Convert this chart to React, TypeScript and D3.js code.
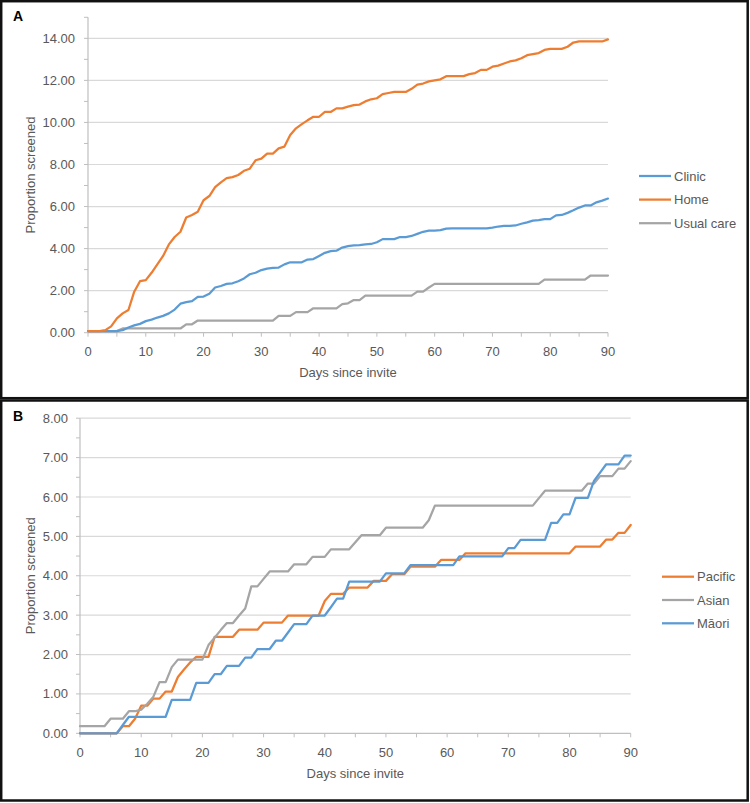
import React from "react";
import * as d3 from "d3";

// ---------- DATA ----------
const days: number[] = Array.from({ length: 91 }, (_, i) => i);
const xTicks = [0, 10, 20, 30, 40, 50, 60, 70, 80, 90];

// Panel A
const seriesA = ["Clinic", "Home", "Usual care"];
const clinic = [
  0.08, 0.08, 0.08, 0.08, 0.08, 0.08, 0.12, 0.25, 0.35, 0.42,
  0.55, 0.62, 0.72, 0.80, 0.92, 1.10, 1.38, 1.45, 1.50, 1.70,
  1.72, 1.85, 2.15, 2.22, 2.32, 2.35, 2.45, 2.58, 2.78, 2.85,
  2.98, 3.05, 3.08, 3.10, 3.25, 3.35, 3.35, 3.35, 3.48, 3.50,
  3.65, 3.80, 3.88, 3.90, 4.05, 4.12, 4.15, 4.16, 4.20, 4.22,
  4.30, 4.45, 4.45, 4.45, 4.55, 4.55, 4.60, 4.70, 4.80, 4.85,
  4.85, 4.88, 4.95, 4.96, 4.96, 4.96, 4.96, 4.96, 4.96, 4.96,
  5.00, 5.05, 5.08, 5.08, 5.10, 5.18, 5.25, 5.33, 5.35, 5.40,
  5.40, 5.58, 5.60, 5.70, 5.82, 5.95, 6.05, 6.05, 6.20, 6.28,
  6.38,
];
const home = [
  0.07, 0.07, 0.07, 0.12, 0.30, 0.68, 0.92, 1.08, 1.95, 2.45,
  2.50, 2.85, 3.25, 3.65, 4.20, 4.55, 4.80, 5.48, 5.60, 5.75,
  6.30, 6.50, 6.92, 7.15, 7.35, 7.40, 7.50, 7.70, 7.80, 8.20,
  8.28, 8.52, 8.52, 8.77, 8.85, 9.40, 9.72, 9.92, 10.10, 10.27,
  10.27, 10.50, 10.50, 10.67, 10.67, 10.75, 10.82, 10.85, 11.00, 11.10,
  11.15, 11.35, 11.40, 11.45, 11.45, 11.45, 11.60, 11.80, 11.85, 11.95,
  12.00, 12.05, 12.20, 12.20, 12.20, 12.20, 12.30, 12.35, 12.50, 12.50,
  12.65, 12.70, 12.80, 12.90, 12.95, 13.05, 13.20, 13.25, 13.30, 13.45,
  13.50, 13.50, 13.50, 13.60, 13.80, 13.85, 13.85, 13.85, 13.85, 13.85,
  13.95,
];
const usualCare = [
  0.08, 0.08, 0.08, 0.08, 0.08, 0.08, 0.20, 0.20, 0.20, 0.20,
  0.20, 0.20, 0.20, 0.20, 0.20, 0.20, 0.20, 0.40, 0.40, 0.58,
  0.58, 0.58, 0.58, 0.58, 0.58, 0.58, 0.58, 0.58, 0.58, 0.58,
  0.58, 0.58, 0.58, 0.80, 0.80, 0.80, 0.98, 0.98, 0.98, 1.16,
  1.16, 1.16, 1.16, 1.16, 1.36, 1.40, 1.55, 1.55, 1.76, 1.76,
  1.76, 1.76, 1.76, 1.76, 1.76, 1.76, 1.76, 1.95, 1.95, 2.15,
  2.32, 2.32, 2.32, 2.32, 2.32, 2.32, 2.32, 2.32, 2.32, 2.32,
  2.32, 2.32, 2.32, 2.32, 2.32, 2.32, 2.32, 2.32, 2.32, 2.52,
  2.52, 2.52, 2.52, 2.52, 2.52, 2.52, 2.52, 2.72, 2.72, 2.72,
  2.72,
];
const yTicksA = [0, 2, 4, 6, 8, 10, 12, 14];

// Panel B
const seriesB = ["Pacific", "Asian", "Māori"];
const pacific = [
  0, 0, 0, 0, 0, 0, 0, 0.18, 0.18, 0.37,
  0.70, 0.70, 0.88, 0.88, 1.06, 1.06, 1.43, 1.62, 1.80, 1.94,
  1.94, 1.94, 2.45, 2.45, 2.45, 2.45, 2.63, 2.63, 2.63, 2.63,
  2.81, 2.81, 2.81, 2.81, 2.99, 2.99, 2.99, 2.99, 2.99, 2.99,
  3.36, 3.54, 3.54, 3.54, 3.70, 3.70, 3.70, 3.70, 3.87, 3.87,
  3.87, 4.04, 4.04, 4.04, 4.23, 4.23, 4.23, 4.23, 4.23, 4.40,
  4.40, 4.40, 4.40, 4.57, 4.57, 4.57, 4.57, 4.57, 4.57, 4.57,
  4.57, 4.57, 4.57, 4.57, 4.57, 4.57, 4.57, 4.57, 4.57, 4.57,
  4.57, 4.74, 4.74, 4.74, 4.74, 4.74, 4.92, 4.92, 5.09, 5.09,
  5.29,
];
const asian = [
  0.18, 0.18, 0.18, 0.18, 0.18, 0.37, 0.37, 0.37, 0.56, 0.56,
  0.60, 0.75, 0.93, 1.30, 1.30, 1.68, 1.87, 1.87, 1.87, 1.87,
  1.87, 2.24, 2.43, 2.62, 2.80, 2.80, 2.99, 3.17, 3.73, 3.73,
  3.92, 4.11, 4.11, 4.11, 4.11, 4.29, 4.29, 4.29, 4.48, 4.48,
  4.48, 4.67, 4.67, 4.67, 4.67, 4.85, 5.03, 5.03, 5.03, 5.03,
  5.22, 5.22, 5.22, 5.22, 5.22, 5.22, 5.22, 5.41, 5.78, 5.78,
  5.78, 5.78, 5.78, 5.78, 5.78, 5.78, 5.78, 5.78, 5.78, 5.78,
  5.78, 5.78, 5.78, 5.78, 5.78, 5.97, 6.16, 6.16, 6.16, 6.16,
  6.16, 6.16, 6.16, 6.34, 6.34, 6.53, 6.53, 6.53, 6.72, 6.72,
  6.91,
];
const maori = [
  0, 0, 0, 0, 0, 0, 0, 0.21, 0.42, 0.42,
  0.42, 0.42, 0.42, 0.42, 0.42, 0.85, 0.85, 0.85, 0.85, 1.28,
  1.28, 1.28, 1.50, 1.50, 1.71, 1.71, 1.71, 1.92, 1.92, 2.14,
  2.14, 2.14, 2.35, 2.35, 2.56, 2.77, 2.77, 2.77, 2.99, 2.99,
  2.99, 3.20, 3.42, 3.42, 3.85, 3.85, 3.85, 3.85, 3.85, 3.85,
  4.06, 4.06, 4.06, 4.06, 4.27, 4.27, 4.27, 4.27, 4.27, 4.27,
  4.27, 4.27, 4.49, 4.49, 4.49, 4.49, 4.49, 4.49, 4.49, 4.49,
  4.70, 4.70, 4.91, 4.91, 4.91, 4.91, 4.91, 5.34, 5.34, 5.56,
  5.56, 5.98, 5.98, 5.98, 6.41, 6.62, 6.83, 6.83, 6.83, 7.05,
  7.05,
];
const yTicksB = [0, 1, 2, 3, 4, 5, 6, 7, 8];

const BLUE = "#5B9BD5";
const ORANGE = "#ED7D31";
const GRAY = "#A5A5A5";
const FONT = "'Liberation Sans', Arial, sans-serif";
const TEXT = "#595959";

type Series = { name: string; values: number[]; color: string };

type PanelProps = {
  label: string;
  labelX: number;
  labelY: number;
  xr: [number, number];
  yr: [number, number];
  yMax: number;
  yTicks: number[];
  minorStep: number;
  series: Series[];
  drawOrder: number[];
  legendX: number;
  legendY: number;
  legendGap: number;
  tickLabelGap: number;
};

function Panel(p: PanelProps) {
  const x = d3.scaleLinear().domain([0, 90]).range(p.xr);
  const y = d3.scaleLinear().domain([0, p.yMax]).range(p.yr);
  const fmt = d3.format(".2f");
  const line = d3
    .line<number>()
    .x((_, i) => x(days[i]))
    .y((v) => y(v));
  const minorY = d3.range(0, p.yMax + 1e-9, p.minorStep);
  const minorX = d3.range(0, 91, 5);
  const y0 = y(0);
  const midY = (p.yr[0] + p.yr[1]) / 2;
  const midX = (p.xr[0] + p.xr[1]) / 2;
  return (
    <g fontFamily={FONT}>
      <text x={p.labelX} y={p.labelY} fontSize={14} fontWeight="bold" fill="#000">
        {p.label}
      </text>
      {p.yTicks.filter((t) => t > 0).map((t) => (
        <line key={"g" + t} x1={p.xr[0]} x2={p.xr[1]} y1={y(t)} y2={y(t)} stroke="#D9D9D9" strokeWidth={1.2} />
      ))}
      <line x1={p.xr[0]} x2={p.xr[0]} y1={y(p.yMax)} y2={y0} stroke="#BFBFBF" strokeWidth={1.2} />
      <line x1={p.xr[0]} x2={p.xr[1]} y1={y0} y2={y0} stroke="#BFBFBF" strokeWidth={1.2} />
      {minorY.map((t) => (
        <line key={"my" + t} x1={p.xr[0] - 4} x2={p.xr[0]} y1={y(t)} y2={y(t)} stroke="#BFBFBF" strokeWidth={1} />
      ))}
      {minorX.map((t) => (
        <line key={"mx" + t} x1={x(t)} x2={x(t)} y1={y0} y2={y0 + 4} stroke="#BFBFBF" strokeWidth={1} />
      ))}
      {p.yTicks.map((t) => (
        <text key={"yt" + t} x={p.xr[0] - p.tickLabelGap} y={y(t)} dy="0.35em" textAnchor="end" fontSize={13} fill={TEXT}>
          {fmt(t)}
        </text>
      ))}
      {xTicks.map((t) => (
        <text key={"xt" + t} x={x(t)} y={y0 + 23.5} textAnchor="middle" fontSize={13} fill={TEXT}>
          {t}
        </text>
      ))}
      <text x={midX} y={y0 + 44.5} textAnchor="middle" fontSize={13} fill={TEXT}>
        Days since invite
      </text>
      <text
        transform={`translate(34.5,${midY}) rotate(-90)`}
        textAnchor="middle"
        fontSize={13}
        fill={TEXT}
      >
        Proportion screened
      </text>
      {p.drawOrder.map((i) => {
        const s = p.series[i];
        return (
          <path
            key={s.name}
            d={line(s.values) || ""}
            fill="none"
            stroke={s.color}
            strokeWidth={2.25}
            strokeLinejoin="round"
            strokeLinecap="round"
          />
        );
      })}
      {p.series.map((s, i) => (
        <g key={"lg" + s.name}>
          <line
            x1={p.legendX}
            x2={p.legendX + 32}
            y1={p.legendY + i * p.legendGap}
            y2={p.legendY + i * p.legendGap}
            stroke={s.color}
            strokeWidth={2.25}
          />
          <text x={p.legendX + 35} y={p.legendY + i * p.legendGap} dy="0.35em" fontSize={13} fill={TEXT}>
            {s.name}
          </text>
        </g>
      ))}
    </g>
  );
}

export default function App() {
  const A: Series[] = [
    { name: seriesA[0], values: clinic, color: BLUE },
    { name: seriesA[1], values: home, color: ORANGE },
    { name: seriesA[2], values: usualCare, color: GRAY },
  ];
  const B: Series[] = [
    { name: seriesB[0], values: pacific, color: ORANGE },
    { name: seriesB[1], values: asian, color: GRAY },
    { name: seriesB[2], values: maori, color: BLUE },
  ];
  return (
    <svg
      width={750}
      height={803}
      style={{ position: "absolute", left: 0, top: 0, background: "#fff" }}
    >
      <rect x={0} y={0} width={750} height={803} fill="#fff" />
      <rect x={1.2} y={1.2} width={746.5} height={397} fill="none" stroke="#111" strokeWidth={2.5} />
      <rect x={1.2} y={400.5} width={746.5} height={400} fill="none" stroke="#111" strokeWidth={2.5} />
      <Panel
        label="A"
        labelX={13}
        labelY={21}
        xr={[88, 608]}
        yr={[332.7, 17.3]}
        yMax={15}
        yTicks={yTicksA}
        minorStep={1}
        series={A}
        drawOrder={[2, 0, 1]}
        legendX={639}
        legendY={176}
        legendGap={23.6}
        tickLabelGap={13}
      />
      <Panel
        label="B"
        labelX={13}
        labelY={421}
        xr={[80, 630.7]}
        yr={[733.3, 418.2]}
        yMax={8}
        yTicks={yTicksB}
        minorStep={0.5}
        series={B}
        drawOrder={[0, 1, 2]}
        legendX={662}
        legendY={576.7}
        legendGap={23.3}
        tickLabelGap={12}
      />
    </svg>
  );
}
